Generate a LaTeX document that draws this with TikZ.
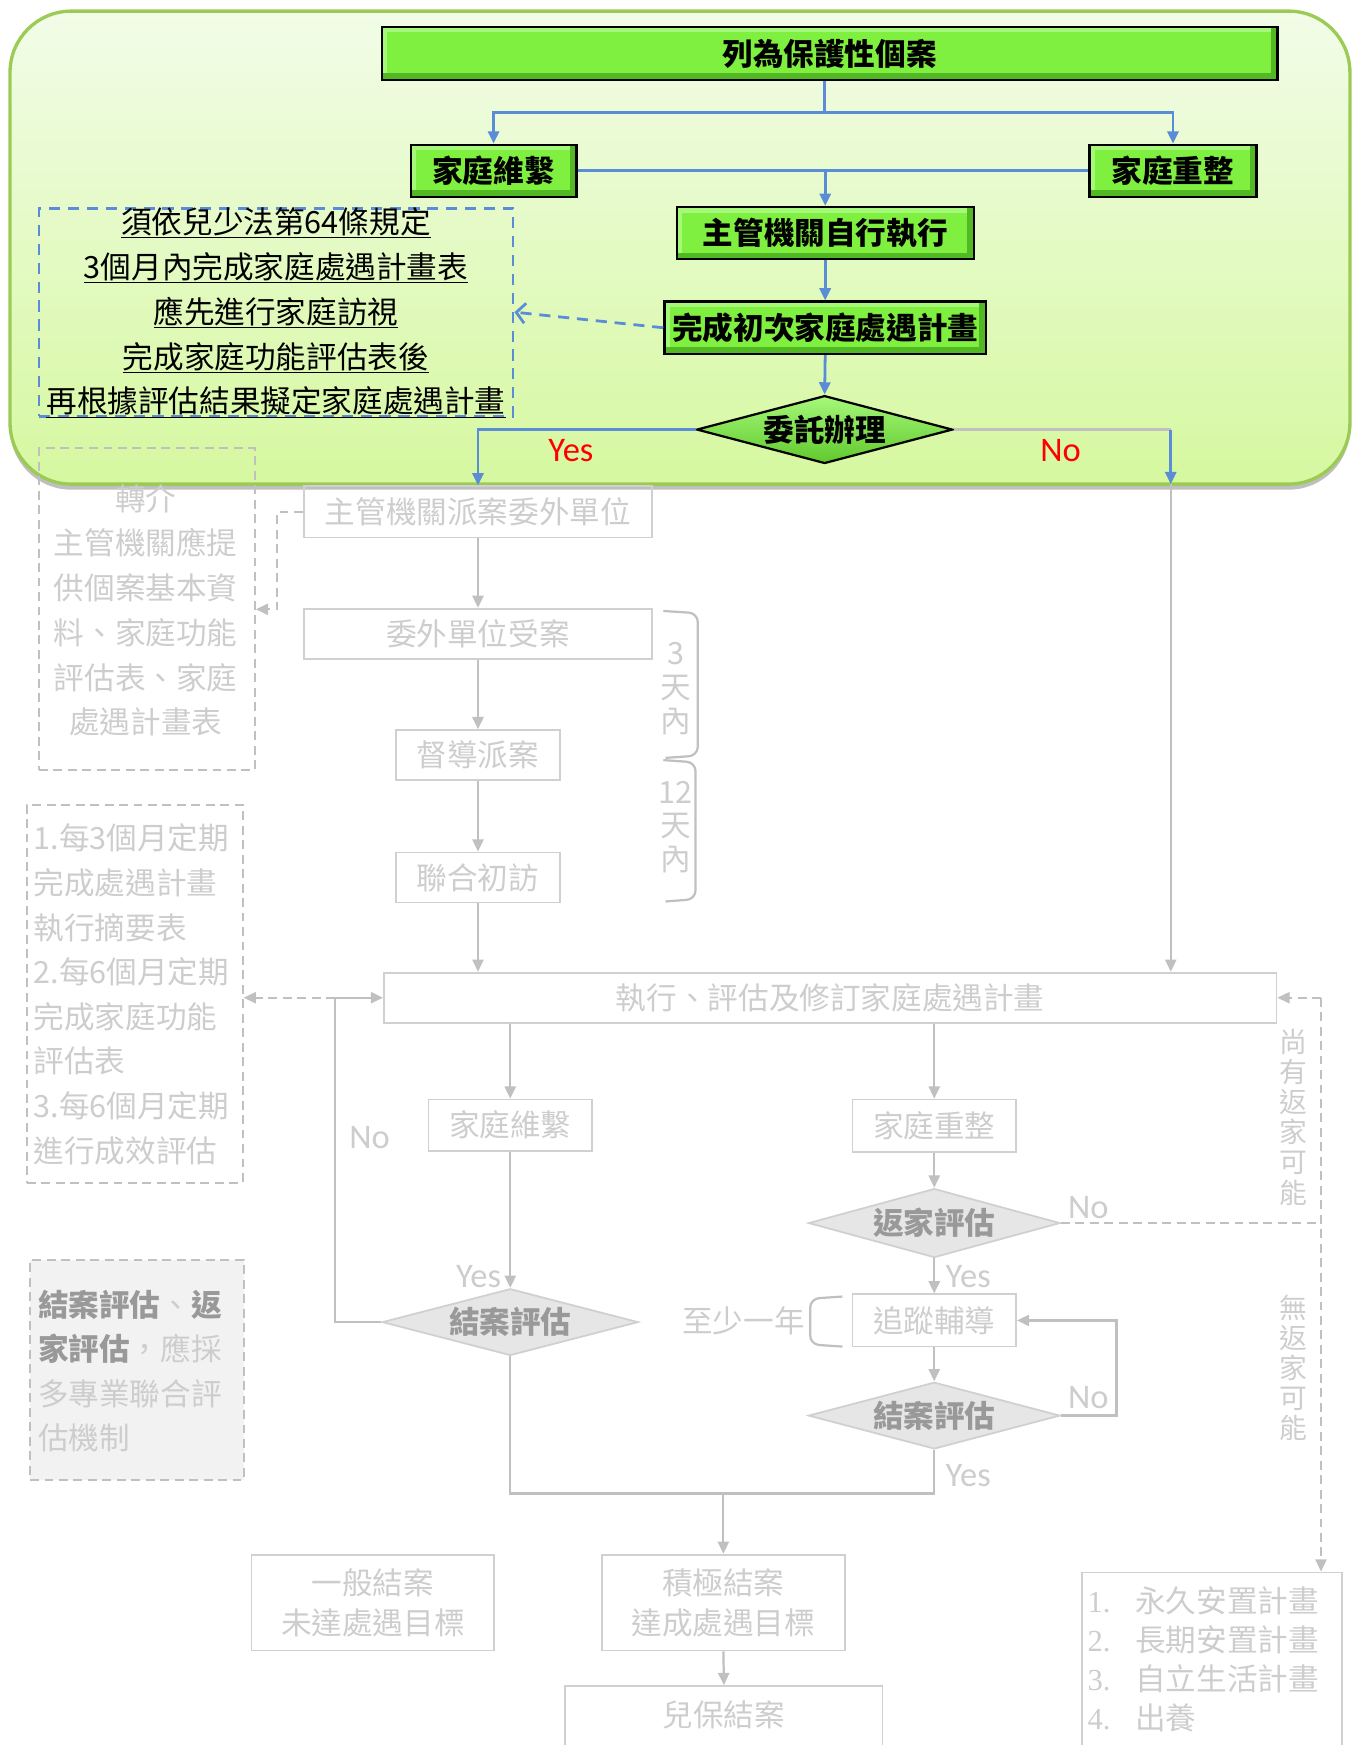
\documentclass[tikz,border=0pt]{standalone}
\usepackage{fontspec}
\setmainfont{Noto Sans CJK TC}
\newfontfamily\latfont{Carlito}
\newfontfamily\serfont{Liberation Serif}
\usetikzlibrary{arrows.meta,shapes.geometric,shadows}
\newcommand{\myfs}[1]{\fontsize{#1}{#1}\selectfont}
\definecolor{gface}{HTML}{80F040}
\definecolor{gdark}{HTML}{52B824}
\definecolor{glight}{HTML}{A6F87A}
\definecolor{bline}{HTML}{5A8DD6}
\definecolor{gyline}{HTML}{C0C0C0}
\definecolor{gytext}{HTML}{CDCDCD}
\definecolor{gybord}{HTML}{D0D0D0}
\definecolor{gydia}{HTML}{E6E6E6}
\definecolor{gybold}{HTML}{999999}
\definecolor{bgtop}{HTML}{F2FCE8}
\definecolor{bgbot}{HTML}{D6F8A0}
\definecolor{bgedge}{HTML}{9CCB55}
\begin{document}
\begin{tikzpicture}[x=1pt,y=-1pt,
  gbox/.style={draw=black, line width=2pt, fill=gface, inner sep=0pt, font=\myfs{27.5}\bfseries,
    path picture={
      \fill[glight] ([yshift=-5pt]path picture bounding box.north west) rectangle (path picture bounding box.north east);
      \fill[glight] (path picture bounding box.south west) rectangle ([xshift=5pt]path picture bounding box.north west);
      \fill[gdark] (path picture bounding box.south west) rectangle ([yshift=6pt]path picture bounding box.south east);
      \fill[gdark] ([xshift=-6pt]path picture bounding box.south east) rectangle (path picture bounding box.north east);
    }},
  gdiam/.style={diamond, aspect=3.8, draw=black, line width=2pt, inner sep=0pt,
    top color=glight, bottom color=gdark!70!gface, font=\myfs{27.5}\bfseries},
  bl/.style={draw=bline, line width=2.5pt},
  bla/.style={bl, -{Triangle[length=11pt,width=10pt]}},
  gyl/.style={draw=gyline, line width=2pt},
  gya/.style={gyl, -{Triangle[length=11pt,width=10pt]}},
  gyd/.style={draw=gyline, line width=1.8pt, dash pattern=on 8pt off 5pt},
  gybox/.style={draw=gybord, line width=1.6pt, inner sep=0pt, text=gytext, font=\myfs{27.5}},
  gydiam/.style={diamond, aspect=3.8, draw=gybord, fill=gydia, line width=1.6pt, inner sep=0pt,
    text=gybold, font=\myfs{27.5}\bfseries},
  gytxt/.style={text=gytext, inner sep=0pt},
  redlab/.style={text=red, font=\latfont\myfs{31}, inner sep=0pt},
  gylab/.style={text=gytext, font=\latfont\myfs{31}, inner sep=0pt}
]
\useasboundingbox (0,0) rectangle (1221,1568);

% green panel
\path[draw=bgedge, line width=3pt, rounded corners=55pt, top color=bgtop, bottom color=bgbot,
  drop shadow={shadow xshift=0pt, shadow yshift=-5pt, opacity=0.25, fill=black}] (9,10) rectangle (1213,435);

% green flow
\node[gbox, minimum width=805pt, minimum height=48pt] (top) at (745.5,48) {列為保護性個案};
\node[gbox, minimum width=149pt, minimum height=47pt] (fm) at (443.5,153.5) {家庭維繫};
\node[gbox, minimum width=150pt, minimum height=47pt] (fr) at (1054,153.5) {家庭重整};
\node[gbox, minimum width=267pt, minimum height=47pt] (self) at (741.5,209.5) {主管機關自行執行};
\node[gbox, minimum width=289pt, minimum height=47pt] (ip) at (741.5,294.5) {完成初次家庭處遇計畫};
\node[gdiam, minimum width=230pt, minimum height=61pt] (wt) at (741,386) {委託辦理};

\coordinate (bsplit) at (741,101);
\draw[bl] (top.south -| bsplit) -- (bsplit);
\draw[bla] (bsplit) -| (fm.north);
\draw[bla] (bsplit) -| (fr.north);
\draw[bl] (fm.east) -- (fr.west);
\draw[bla] (fm.east -| self.north) -- (self.north);
\draw[bla] (self.south) -- (ip.north);
\draw[bla] (ip.south) -- (wt.north);

% blue dashed note
\node[draw=bline, line width=2.5pt, dash pattern=on 10pt off 7pt, minimum width=426pt, minimum height=187pt, inner sep=0pt] (n1) at (248,280.5) {};
\node[align=center, inner sep=0pt, font=\fontsize{27.5}{40.3}\selectfont] (n1t) at (248,281) {\underline{須依兒少法第64條規定}\\\underline{3個月內完成家庭處遇計畫表}\\\underline{應先進行家庭訪視}\\\underline{完成家庭功能評估表後}\\\underline{再根據評估結果擬定家庭處遇計畫}};
\draw[draw=bline, line width=2.5pt, dash pattern=on 10pt off 7pt, -{Straight Barb[length=8pt,width=18pt]}] (ip.west) -- (n1.east);

% grey boxes
\node[gybox, minimum width=313pt, minimum height=46pt] (disp) at (429.5,460) {主管機關派案委外單位};
\node[gybox, minimum width=313pt, minimum height=45pt] (recv) at (429.5,569.5) {委外單位受案};
\node[gybox, minimum width=147pt, minimum height=45pt] (sup) at (429.5,678.5) {督導派案};
\node[gybox, minimum width=147pt, minimum height=45pt] (visit) at (429.5,788.5) {聯合初訪};
\node[gybox, minimum width=802pt, minimum height=45pt] (exec) at (746,896.5) {執行、評估及修訂家庭處遇計畫};
\node[gybox, minimum width=147pt, minimum height=46pt] (fm2) at (458.5,1011) {家庭維繫};
\node[gybox, minimum width=147pt, minimum height=47pt] (fr2) at (839.5,1011.5) {家庭重整};
\node[gydiam, minimum width=226pt, minimum height=62pt] (ret) at (839.5,1099) {返家評估};
\node[gybox, minimum width=147pt, minimum height=47pt] (track) at (839.5,1186.5) {追蹤輔導};
\node[gydiam, minimum width=226pt, minimum height=60pt] (ce2) at (839.5,1272) {結案評估};
\node[gydiam, minimum width=230pt, minimum height=60pt] (ce1) at (458.5,1188) {結案評估};
\node[gybox, minimum width=218pt, minimum height=86pt, align=center, font=\fontsize{27.5}{36}\selectfont] (gen) at (335,1440) {一般結案\\未達處遇目標};
\node[gybox, minimum width=218pt, minimum height=86pt, align=center, font=\fontsize{27.5}{36}\selectfont] (pos) at (650,1440) {積極結案\\達成處遇目標};
\node[gybox, minimum width=285pt, minimum height=90pt] (close) at (650.5,1560) {};
\node[gytxt, font=\myfs{27.5}] (closet) at (650.5,1541) {兒保結案};
\node[gybox, minimum width=234pt, minimum height=190pt] (list) at (1089,1508) {};
\node[gytxt, anchor=west, align=left, font=\fontsize{27.5}{35.3}\selectfont] (listt) at (977,1491)
 {\makebox[43pt][l]{\serfont 1.}永久安置計畫\\\makebox[43pt][l]{\serfont 2.}長期安置計畫\\\makebox[43pt][l]{\serfont 3.}自立生活計畫\\\makebox[43pt][l]{\serfont 4.}出養};

% grey dashed notes
\node[gyd, minimum width=194pt, minimum height=289pt, inner sep=0pt] (n0) at (132,547.5) {};
\node[gytxt, align=center, font=\fontsize{27.5}{40.2}\selectfont] (n0t) at (131,548.5) {轉介\\主管機關應提\\供個案基本資\\料、家庭功能\\評估表、家庭\\處遇計畫表};
\node[gyd, minimum width=194pt, minimum height=340pt, inner sep=0pt] (n2) at (121,893) {};
\node[gytxt, anchor=west, align=left, font=\fontsize{27.5}{40.1}\selectfont] (n2t) at (30,893.5) {1.每3個月定期\\完成處遇計畫\\執行摘要表\\2.每6個月定期\\完成家庭功能\\評估表\\3.每6個月定期\\進行成效評估};
\node[gyd, fill=black!5, minimum width=192pt, minimum height=198pt, inner sep=0pt] (n3) at (123,1231) {};
\node[gytxt, anchor=west, align=left, font=\fontsize{27.5}{40}\selectfont] (n3t) at (34,1232) {{\bfseries\color{gybold}結案評估}、{\bfseries\color{gybold}返}\\{\bfseries\color{gybold}家評估}，應採\\多專業聯合評\\估機制};

% blue decision branches
\coordinate (noc) at (1052,386);
\coordinate (nob) at (1052,435);
\draw[bla] (wt.west) -| (disp.north);
\draw[gyl] (wt.east) -- (noc);
\draw[bla] (noc) -- (nob);
\draw[gya] (nob) -- (nob |- exec.north);
\node[redlab] (yes0) at (513,405) {Yes};
\node[redlab] (no0) at (953,405) {No};

% grey connectors
\draw[gya] (disp.south) -- (recv.north);
\draw[gya] (recv.south) -- (sup.north);
\draw[gya] (sup.south) -- (visit.north);
\draw[gya] (visit.south) -- (visit.south |- exec.north);
\draw[gya] (exec.south -| fm2.north) -- (fm2.north);
\draw[gya] (exec.south -| fr2.north) -- (fr2.north);
\draw[gya] (fm2.south) -- (ce1.north);
\draw[gya] (fr2.south) -- (ret.north);
\draw[gya] (ret.south) -- (track.north);
\draw[gya] (track.south) -- (ce2.north);
\draw[gya] (ce2.east) -- ++(50,0) |- (track.east);
\coordinate (lcorner) at (301,896.5);
\draw[gya] (ce1.west) -| (lcorner) -- (exec.west);
\coordinate (jn) at (650,1342);
\draw[gyl] (ce1.south) |- (jn) -| (ce2.south);
\draw[gya] (jn) -- (pos.north);
\draw[gya] (pos.south) -- (close.north);

% grey dashed connectors
\draw[gyd, -{Triangle[length=11pt,width=10pt]}] (disp.west) -- ++(-23,0) |- (n0.east);
\draw[gyd, -{Triangle[length=11pt,width=10pt]}] (lcorner) -- (lcorner -| n2.east);
\coordinate (rtop) at (1187,896.5);
\coordinate (rmid) at (1187,1099);
\draw[gyd] (ret.east) -- (rmid);
\draw[gyd, -{Triangle[length=11pt,width=10pt]}] (rtop) -- (exec.east);
\draw[gyd, -{Triangle[length=11pt,width=10pt]}] (rtop) -- (rtop |- list.north);

% braces
\draw[gyl, rounded corners=8pt] (596,549) -- (627,551) -- (627,679) -- (598,681);
\draw[gyl, rounded corners=8pt] (596,683) -- (625,685) -- (625,808) -- (598,810);
\draw[gyl, rounded corners=8pt] (757,1165) -- (728,1167) -- (728,1208) -- (757,1210);

% grey labels
\node[gytxt, align=center, font=\fontsize{27.5}{30.5}\selectfont] (d3) at (607,619) {3\\天\\內};
\node[gytxt, align=center, font=\fontsize{27.5}{30}\selectfont] (d12) at (607,743) {12\\天\\內};
\node[gytxt, font=\myfs{27.5}] (year) at (668,1187) {至少一年};
\node[gytxt, align=center, font=\fontsize{25}{27}\selectfont] (maybe) at (1162,1004) {尚\\有\\返\\家\\可\\能};
\node[gytxt, align=center, font=\fontsize{25}{27}\selectfont] (nomaybe) at (1162,1229) {無\\返\\家\\可\\能};
\node[gylab] (nol) at (332,1022) {No};
\node[gylab] (yesl) at (430,1147) {Yes};
\node[gylab] (nor1) at (978,1085) {No};
\node[gylab] (yesr1) at (870,1147) {Yes};
\node[gylab] (nor2) at (978,1256) {No};
\node[gylab] (yesr2) at (870,1326) {Yes};
\end{tikzpicture}
\end{document}
